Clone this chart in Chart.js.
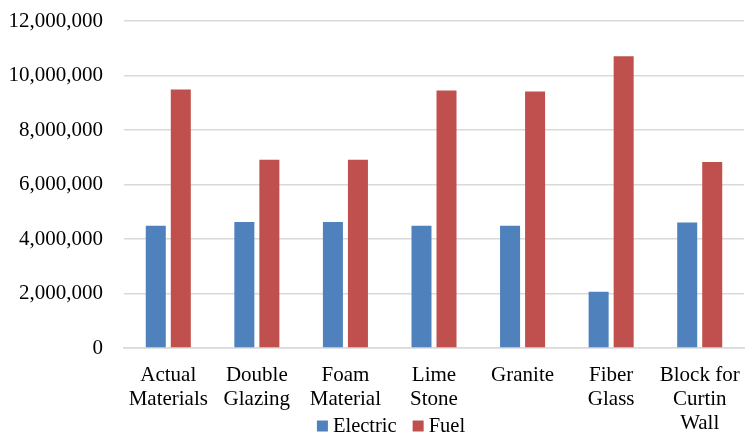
<!DOCTYPE html>
<html>
<head>
<meta charset="utf-8">
<script src="https://cdn.jsdelivr.net/npm/chart.js@4"></script>
<style>
  html, body { margin: 0; padding: 0; background: #fff; overflow: hidden; }
</style>
</head>
<body>
<canvas id="c" width="750" height="434"></canvas>
<script>
// Energy consumption by building material option
const categories = [
  ["Actual", "Materials"],
  ["Double", "Glazing"],
  ["Foam", "Material"],
  ["Lime", "Stone"],
  ["Granite"],
  ["Fiber", "Glass"],
  ["Block for", "Curtin", "Wall"]
];
const electric = [4490000, 4620000, 4620000, 4490000, 4490000, 2060000, 4610000];
const fuel = [9490000, 6910000, 6910000, 9450000, 9410000, 10710000, 6830000];
const seriesNames = ["Electric", "Fuel"];
const seriesColors = ["#4F81BD", "#C0504D"];

const serif = "'Liberation Serif', 'Times New Roman', serif";

// Legend drawn beneath the category labels, centred under the plot
const bottomLegend = {
  id: "bottomLegend",
  afterDraw(chart) {
    const ctx = chart.ctx;
    ctx.save();
    ctx.font = "20.5px " + serif;
    ctx.textBaseline = "middle";
    const box = 11, gapBox = 5, gapItem = 16;
    const items = chart.data.datasets.map(d => ({ label: d.label, color: d.backgroundColor }));
    let total = 0;
    items.forEach((it, i) => {
      total += box + gapBox + ctx.measureText(it.label).width + (i < items.length - 1 ? gapItem : 0);
    });
    let x = 391 - total / 2;
    const y = 426;
    items.forEach(it => {
      ctx.fillStyle = it.color;
      ctx.fillRect(x, y - box / 2, box, box);
      x += box + gapBox;
      ctx.fillStyle = "#000";
      ctx.fillText(it.label, x, y + 1);
      x += ctx.measureText(it.label).width + gapItem;
    });
    ctx.restore();
  }
};

new Chart(document.getElementById("c"), {
  type: "bar",
  data: {
    labels: categories,
    datasets: [
      { label: seriesNames[0], data: electric, backgroundColor: seriesColors[0] },
      { label: seriesNames[1], data: fuel, backgroundColor: seriesColors[1] }
    ]
  },
  options: {
    responsive: false,
    animation: false,
    layout: { padding: { top: 21, right: 6, left: 0, bottom: 0 } },
    datasets: { bar: { categoryPercentage: 0.565, barPercentage: 0.8 } },
    plugins: { legend: { display: false }, tooltip: { enabled: false } },
    scales: {
      x: {
        grid: { display: false, drawTicks: false },
        border: { display: true, color: "#d9d9d9", width: 1.5 },
        ticks: {
          color: "#000",
          font: { family: serif, size: 21, lineHeight: 1.15 },
          padding: 15,
          maxRotation: 0,
          autoSkip: false
        },
        afterFit(s) {
          s.height = 86;
          s.paddingLeft = 0;
          s.paddingRight = 0;
        }
      },
      y: {
        min: 0,
        max: 12000000,
        grid: { color: "#d9d9d9", lineWidth: 1.5, drawTicks: false },
        border: { display: false },
        ticks: {
          stepSize: 2000000,
          color: "#000",
          font: { family: serif, size: 21 },
          padding: 21,
          callback: v => v.toLocaleString("en-US")
        },
        afterFit(s) {
          s.width = 124;
          s.paddingTop = 0;
          s.paddingBottom = 0;
        }
      }
    }
  },
  plugins: [bottomLegend]
});
</script>
</body>
</html>
